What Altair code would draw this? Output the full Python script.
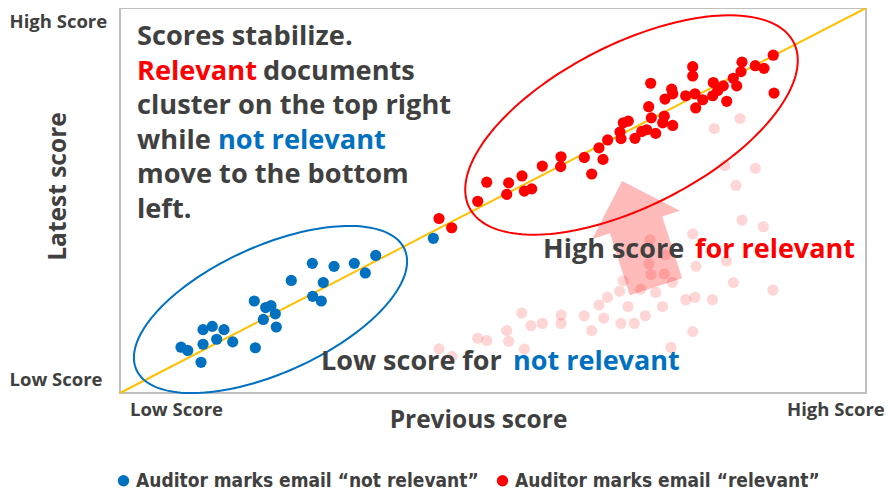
import altair as alt
import pandas as pd
import numpy as np

# ---------------- data (scores 0-100 on both axes) ----------------
blue_x = [8.18, 9.08, 10.86, 11.13, 12.37, 13.94, 11.13, 12.96, 15.11, 18.14, 18.0, 19.53, 20.24,
          20.82, 19.21, 20.95, 22.96, 25.78, 28.69, 31.41, 34.28, 32.88, 27.25, 25.83, 26.98, 42.0]
blue_y = [11.9, 11.05, 7.97, 16.45, 17.3, 16.45, 12.67, 13.96, 13.29, 11.75, 23.9, 22.19, 22.7,
          20.57, 19.1, 17.15, 29.23, 33.68, 32.9, 33.68, 35.73, 31.18, 28.71, 25.12, 23.9, 40.18]

red_x = [42.76, 44.46, 47.95, 49.16, 51.84, 52.1, 53.89, 54.2, 55.19, 56.61, 59.12, 59.07, 62.24,
         63.23, 64.75, 64.21, 65.37, 67.02, 67.16, 67.47, 68.14, 69.03, 69.93, 70.6, 71.81, 71.22,
         70.87, 71.14, 72.96, 72.75, 74.09, 73.06, 73.95, 74.09, 75.83, 77.08, 77.17, 78.11, 76.77,
         76.77, 79.53, 79.45, 80.12, 80.87, 81.33, 82.21, 82.67, 83.24, 83.38, 85.16, 86.33, 87.57, 87.67]
red_y = [45.32, 42.93, 49.79, 54.76, 51.59, 54.58, 56.38, 52.44, 53.03, 58.95, 61.36, 58.79, 61.18,
         56.89, 60.67, 63.68, 65.73, 67.79, 66.07, 70.18, 70.62, 66.14, 67.94, 68.38, 67.43, 71.47,
         74.37, 80.46, 71.9, 70.18, 69.49, 76.35, 78.92, 77.71, 77.2, 77.71, 74.04, 76.17, 84.76,
         82.34, 80.64, 77.2, 78.59, 79.77, 75.76, 81.75, 79.77, 83.47, 85.94, 85.01, 84.32, 87.74, 77.89]

# previous positions of the relevant documents (faded)
prev_x = [83.11, 79.66, 81.06, 85.16, 82.57, 83.38, 86.23, 76.77, 71.05, 73.06, 70.91, 71.18, 72.96,
          74.06, 77.21, 81.3, 82.21, 87.53, 67.43, 66.97, 65.35, 64.21, 68.1, 69.8, 71.81, 72.72,
          70.42, 68.94, 67.16, 64.84, 62.24, 63.23, 59.12, 59.12, 56.61, 55.09, 53.85, 51.84, 52.1,
          49.16, 47.95, 54.2, 42.76, 44.5, 75.84, 77.08, 79.42, 76.77, 73.86]
prev_y = [71.29, 68.71, 59.05, 58.35, 53.91, 44.91, 43.19, 41.31, 39.77, 35.91, 33.55, 30.77, 30.93,
          28.74, 32.9, 34.29, 28.66, 26.74, 29.15, 26.43, 24.83, 22.83, 22.47, 26.94, 26.12, 22.47,
          20.05, 18.07, 18.07, 19.46, 20.05, 16.2, 20.23, 18.07, 18.07, 17.48, 20.75, 16.2, 13.44,
          13.62, 14.22, 11.39, 11.49, 9.51, 24.24, 24.86, 24.24, 15.94, 11.83]

diag_x = [0, 100]
diag_y = [0, 100]

legend_labels = ["Auditor marks email \u201cnot relevant\u201d", "Auditor marks email \u201crelevant\u201d"]
series_colors = ["#0070C0", "#FF0000"]

axis_x_labels = ["Low Score", "High Score"]
axis_y_labels = ["Low Score", "High Score"]

# ---------------- layout helpers ----------------
W, H = 746, 385
PX_X = W / 100.0
PX_Y = H / 100.0
GREY = "#404040"
FONT = "Open Sans"


def to_data_x(px):
    return (px - 120) / PX_X


def to_data_y(py):
    return (393 - py) / PX_Y


xs = alt.Scale(domain=[0, 100], nice=False, zero=False)
ys = alt.Scale(domain=[0, 100], nice=False, zero=False)

# ---------------- layers ----------------
diag_df = pd.DataFrame({"x": diag_x, "y": diag_y})
diag = alt.Chart(diag_df).mark_line(color="#FFC000", strokeWidth=2).encode(
    x=alt.X("x:Q", scale=xs, axis=alt.Axis(
        values=[7.5, 95.9], labelExpr="datum.value < 50 ? '%s' : '%s'" % tuple(axis_x_labels),
        ticks=False, domain=False, grid=False, labelFlush=False,
        labelFont=FONT, labelFontWeight="bold", labelFontSize=18.5, labelColor=GREY, labelPadding=7,
        title="Previous score", titleFont=FONT, titleFontWeight="bold", titleFontSize=24.5,
        titleColor=GREY, titleX=358, titleY=27, titleBaseline="middle", titleAlign="center")),
    y=alt.Y("y:Q", scale=ys, axis=alt.Axis(
        values=[3.4, 96.4], labelExpr="datum.value < 50 ? '%s' : '%s'" % tuple(axis_y_labels),
        ticks=False, domain=False, grid=False, labelFlush=False,
        labelFont=FONT, labelFontWeight="bold", labelFontSize=18.5, labelColor=GREY,
        labelAlign="left", labelBaseline="middle", labelPadding=111,
        title="Latest score", titleFont=FONT, titleFontWeight="bold", titleFontSize=24.5,
        titleColor=GREY, titleX=-62, titleY=178, titleAngle=270, titleBaseline="middle",
        titleAlign="center")),
)

prev_df = pd.DataFrame({"x": prev_x, "y": prev_y})
prev = alt.Chart(prev_df).mark_circle(size=125, color="#FF0000", opacity=0.16).encode(
    x=alt.X("x:Q", scale=xs), y=alt.Y("y:Q", scale=ys))

# arrow (translucent block arrow)
arrow_path = ("M0,-0.933 L0.767,-0.167 L0.458,-0.167 L0.458,0.917 L-0.458,0.917 "
              "L-0.458,-0.167 L-0.767,-0.167 Z")
arrow_df = pd.DataFrame({"x": [to_data_x(639.2)], "y": [41.2]})
arrow = alt.Chart(arrow_df).mark_point(
    shape=arrow_path, size=14400, angle=342.2, filled=True, fill="#FF0000",
    fillOpacity=0.27, strokeWidth=0, opacity=1).encode(
    x=alt.X("x:Q", scale=xs), y=alt.Y("y:Q", scale=ys))


def ellipse_df(cx_px, cy_px, a, b, theta_deg, name):
    th = np.radians(theta_deg)
    t = np.linspace(0, 2 * np.pi, 181)
    dx = a * np.cos(t) * np.cos(th) - b * np.sin(t) * np.sin(th)
    dy = a * np.cos(t) * np.sin(th) + b * np.sin(t) * np.cos(th)
    return pd.DataFrame({"x": to_data_x(cx_px) + dx / PX_X,
                         "y": to_data_y(cy_px) + dy / PX_Y,
                         "o": np.arange(len(t)), "e": name})


blue_ell = alt.Chart(ellipse_df(270.5, 309.5, 147, 63.5, 24.2, "b")).mark_line(
    color="#0070C0", strokeWidth=2).encode(
    x=alt.X("x:Q", scale=xs), y=alt.Y("y:Q", scale=ys), order="o:Q")
red_ell = alt.Chart(ellipse_df(631.5, 125, 182, 81, 27, "r")).mark_line(
    color="#FF0000", strokeWidth=2).encode(
    x=alt.X("x:Q", scale=xs), y=alt.Y("y:Q", scale=ys), order="o:Q")

pts_df = pd.concat([
    pd.DataFrame({"x": blue_x, "y": blue_y, "g": legend_labels[0]}),
    pd.DataFrame({"x": red_x, "y": red_y, "g": legend_labels[1]}),
])
pts = alt.Chart(pts_df).mark_circle(size=125, opacity=1).encode(
    x=alt.X("x:Q", scale=xs), y=alt.Y("y:Q", scale=ys),
    color=alt.Color("g:N", title=None,
                    scale=alt.Scale(domain=legend_labels, range=series_colors),
                    legend=alt.Legend(orient="none", legendX=-6, legendY=463, direction="horizontal",
                                      symbolType="circle", symbolSize=130, symbolStrokeWidth=0,
                                      labelFont="Liberation Sans Narrow, DejaVu Sans Condensed",
                                      labelFontWeight="bold", labelFontSize=19, labelColor=GREY,
                                      labelOffset=3, columnPadding=14, labelLimit=0)))

# annotation texts: (text, page-x, page-baseline-y, colour, size)
ann_text = ["Scores stabilize.", "Relevant", "documents", "cluster on the top right", "while",
            "not relevant", "move to the bottom", "left.",
            "High score", "for relevant", "Low score for", "not relevant"]
ann_px = [137, 137, 263, 137, 137, 218, 137, 137, 543, 695, 321, 513]
ann_py = [45, 79.5, 79.5, 114, 148.5, 148.5, 183, 217.5, 258, 258, 370, 370]
ann_col = [GREY, "#FF0000", GREY, GREY, GREY, "#0070C0", GREY, GREY,
           GREY, "#FF0000", GREY, "#0070C0"]
ann_size = [27.2] * 8 + [27] * 4

ann_df = pd.DataFrame({"t": ann_text, "x": [to_data_x(v) for v in ann_px],
                       "y": [to_data_y(v) for v in ann_py], "c": ann_col, "s": ann_size})
ann = alt.Chart(ann_df).mark_text(align="left", baseline="alphabetic", font=FONT,
                                  fontWeight="bold").encode(
    x=alt.X("x:Q", scale=xs), y=alt.Y("y:Q", scale=ys), text="t:N",
    color=alt.Color("c:N", scale=None), size=alt.Size("s:Q", scale=None))

chart = alt.layer(prev, arrow, diag, blue_ell, red_ell, pts, ann).properties(
    width=W, height=H,
    autosize=alt.AutoSizeParams(type="none"),
    padding={"left": 112, "top": 0, "right": 20, "bottom": 99},
).configure_view(stroke="#BFBFBF", strokeWidth=2)

chart.save("out.html", embed_options={"renderer": "svg", "actions": False})
